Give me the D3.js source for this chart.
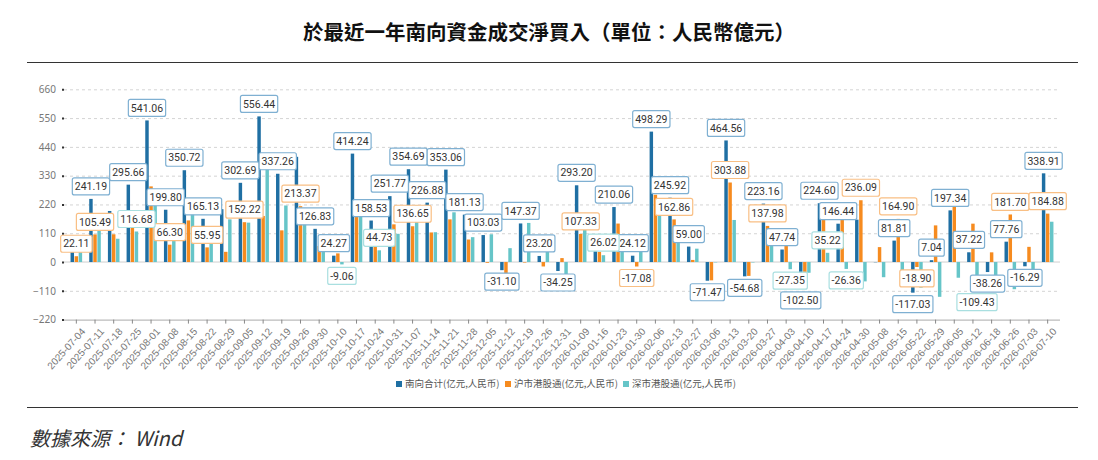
<!DOCTYPE html>
<html>
<head>
<meta charset="utf-8">
<script src="https://cdn.jsdelivr.net/npm/d3@7"></script>
<style>
  body { margin: 0; background: #fff; }
  svg { display: block; font-family: "Noto Sans", "Noto Sans CJK SC", sans-serif; }
</style>
</head>
<body>
<svg id="chart" width="1098" height="460"></svg>
<script>
// weekly dates
const dates = ["2025-07-04","2025-07-11","2025-07-18","2025-07-25","2025-08-01","2025-08-08","2025-08-15","2025-08-22","2025-08-29",
  "2025-09-05","2025-09-12","2025-09-19","2025-09-26","2025-09-30","2025-10-10","2025-10-17","2025-10-24","2025-10-31",
  "2025-11-07","2025-11-14","2025-11-21","2025-11-28","2025-12-05","2025-12-12","2025-12-19","2025-12-26","2025-12-31",
  "2026-01-09","2026-01-16","2026-01-23","2026-01-30","2026-02-06","2026-02-13","2026-02-27","2026-03-06","2026-03-13",
  "2026-03-20","2026-03-27","2026-04-03","2026-04-10","2026-04-17","2026-04-24","2026-04-30","2026-05-08","2026-05-15",
  "2026-05-22","2026-05-29","2026-06-05","2026-06-12","2026-06-18","2026-06-26","2026-07-03","2026-07-10"];

const southTotal = [60, 241.19, 195, 295.66, 541.06, 199.80, 350.72, 165.13, 202, 302.69, 556.44, 337.26, 402, 126.83,
  24.27, 414.24, 158.53, 251.77, 354.69, 226.88, 353.06, 181.13, 103.03, -31.10, 147.37, 23.20, -34.25, 293.20, 65,
  210.06, 24.12, 498.29, 245.92, 59.00, -71.47, 464.56, -54.68, 223.16, 47.74, -102.50, 224.60, 146.44, 162, -1,
  81.81, -117.03, 7.04, 197.34, 37.22, -38.26, 77.76, -16.29, 338.91];

const shanghai = [22.11, 105.49, 106, 179, 289, 66.30, 159, 55.95, 39, 152.22, 176, 121, 213.37, 61, 33, 200, 113.8,
  144, 136.65, 113, 163, 86, -3, -84, -2, -17, 15, 107.33, 39, 147, -17.08, 257, 162.86, 8, -70, 303.88, -53, 137.98,
  75, -61.5, 189.4, 172.8, 236.09, 57, 164.90, -18.90, 140, 257, 146.6, 37, 181.70, 58, 184.88];

const shenzhen = [38, 135.7, 89, 116.68, 252, 133.5, 191.7, 109.2, 163, 150.5, 380, 216, 188.6, 65.8, -9.06, 214.2,
  44.73, 107.8, 218, 113.9, 190, 95, 106, 53, 149.4, 40.2, -49.2, 185.9, 26.02, 63, 41.2, 241.3, 83.1, 51, -1.5,
  160.7, -1.7, 85.2, -27.35, -41, 35.22, -26.36, -74, -58, -83.1, -98.1, -133, -60, -109.43, -75.3, -103.9, -74.3, 154];

const seriesNames = ["南向合计(亿元,人民币)", "沪市港股通(亿元,人民币)", "深市港股通(亿元,人民币)"];
const yTicks = [-220, -110, 0, 110, 220, 330, 440, 550, 660];

// bars that carry a value label (category index)
const labelTotal = [1,3,4,5,6,7,9,10,11,13,14,15,16,17,18,19,20,21,22,23,24,25,26,27,29,30,31,32,33,34,35,36,37,38,
  39,40,41,44,45,46,47,48,49,50,51,52];
const labelSh = [0,1,5,7,9,12,18,27,30,32,35,37,42,44,45,50,52];
const labelSz = [3,14,16,28,38,40,41,48];

const colors = ["#1f6fa3", "#f68b1f", "#66c5c8"];
const labelBorders = ["#7fb0d2", "#f9bf84", "#a9dfe0"];

const svg = d3.select("#chart");

// title
svg.append("text")
  .attr("x", 549).attr("y", 40)
  .attr("text-anchor", "middle")
  .style("font-family", "'Noto Sans CJK TC', sans-serif")
  .style("font-size", "20.5px").style("font-weight", "bold")
  .attr("fill", "#111")
  .text("於最近一年南向資金成交淨買入（單位：人民幣億元）");

svg.append("line").attr("x1", 27).attr("x2", 1078).attr("y1", 62.5).attr("y2", 62.5)
  .attr("stroke", "#333").attr("stroke-width", 1);
svg.append("line").attr("x1", 27).attr("x2", 1078).attr("y1", 407.5).attr("y2", 407.5)
  .attr("stroke", "#333").attr("stroke-width", 1);

svg.append("text")
  .attr("x", 30).attr("y", 446)
  .style("font-family", "'Noto Sans CJK TC', sans-serif")
  .style("font-size", "20px").style("font-style", "italic")
  .attr("fill", "#333")
  .text("數據來源： Wind");

// scales
const x = d3.scaleBand().domain(dates).range([67, 1057]).paddingInner(0.38).paddingOuter(0.19);
const x1 = d3.scaleBand().domain([0, 1, 2]).range([0, x.bandwidth()]).paddingInner(0.15);
const y = d3.scaleLinear().domain([-220, 660]).range([319.6, 89.3]);

// grid
const grid = svg.append("g")
  .attr("transform", "translate(64,0)")
  .call(d3.axisLeft(y).tickValues(yTicks.filter(d => d !== -220 && d !== 0)).tickSize(-996).tickFormat(""));
grid.select(".domain").remove();
grid.selectAll("line").attr("stroke", "#d4d4d4").attr("stroke-dasharray", "3,3");

svg.append("line").attr("x1", 64).attr("x2", 1060).attr("y1", y(0)).attr("y2", y(0))
  .attr("stroke", "#cfcfcf");

// y axis
const yAxis = svg.append("g")
  .attr("transform", "translate(64,0)")
  .call(d3.axisLeft(y).tickValues(yTicks).tickSize(2).tickPadding(6));
yAxis.select(".domain").remove();
yAxis.selectAll("line").attr("stroke", "#333").attr("stroke-width", 2);
yAxis.selectAll("text").attr("fill", "#777").style("font-size", "10px")
  .style("font-family", "'Noto Sans', sans-serif");

// x axis
const xAxis = svg.append("g")
  .attr("transform", `translate(0,${y(-220)})`)
  .call(d3.axisBottom(x).tickSize(4).tickSizeOuter(0));
xAxis.select(".domain").attr("stroke", "#aaa").attr("d", "M64,0.5H1060");
xAxis.selectAll("line").attr("stroke", "#888");
xAxis.selectAll("text")
  .attr("fill", "#777").style("font-size", "10px")
  .attr("text-anchor", "end")
  .attr("dy", "0.35em")
  .attr("transform", "translate(7,10) rotate(-48)")
  .attr("y", 0).attr("x", 0);

// bars
const seriesData = [southTotal, shanghai, shenzhen];
const bars = svg.append("g");
seriesData.forEach((vals, s) => {
  bars.selectAll(".bar" + s)
    .data(vals)
    .join("rect")
    .attr("class", "bar" + s)
    .attr("x", (d, i) => x(dates[i]) + x1(s))
    .attr("width", x1.bandwidth())
    .attr("y", d => y(Math.max(0, d)))
    .attr("height", d => Math.abs(y(d) - y(0)))
    .attr("fill", colors[s]);
});

// value labels
const labelSets = [labelTotal, labelSh, labelSz];
const labels = svg.append("g");
labelSets.forEach((idx, s) => {
  idx.forEach(i => {
    const v = seriesData[s][i];
    const cx = x(dates[i]) + x1(s) + x1.bandwidth() / 2;
    const h = 17;
    const top = v >= 0 ? y(v) - 4 - h : y(v) + 3;
    const g = labels.append("g");
    const t = g.append("text")
      .attr("x", cx).attr("y", top + h / 2)
      .attr("dy", "0.35em")
      .attr("text-anchor", "middle")
      .attr("fill", "#333")
      .style("font-family", "Roboto, sans-serif")
      .style("font-size", "10.5px")
      .text(v.toFixed(2));
    const w = t.node().getComputedTextLength() + 5;
    g.insert("rect", "text")
      .attr("x", cx - w / 2).attr("y", top)
      .attr("width", w).attr("height", h)
      .attr("rx", 2)
      .attr("fill", "#fff")
      .attr("stroke", labelBorders[s]).attr("stroke-width", 1.2);
  });
});

// legend
const legend = svg.append("g").attr("transform", "translate(396,384)");
const legendX = [0, 109, 227];
seriesNames.forEach((n, s) => {
  legend.append("rect").attr("x", legendX[s]).attr("y", -3).attr("width", 6).attr("height", 6).attr("fill", colors[s]);
  legend.append("text").attr("x", legendX[s] + 9).attr("y", 0).attr("dy", "0.35em")
    .attr("fill", "#555").style("font-size", "9.5px")
    .style("font-family", "'Noto Sans CJK SC', sans-serif")
    .text(n);
});
</script>
</body>
</html>
